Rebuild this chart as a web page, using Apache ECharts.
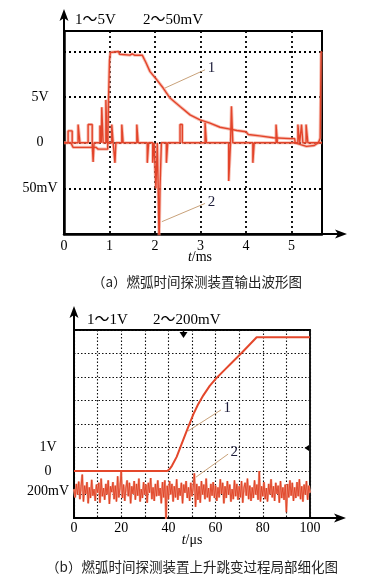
<!DOCTYPE html>
<html><head><meta charset="utf-8">
<script src="https://cdn.jsdelivr.net/npm/echarts@6/dist/echarts.min.js"></script>
<style>html,body{margin:0;padding:0;background:#fff}#c{width:365px;height:579px}</style>
</head><body><div id="c"></div>
<script>
// ---------- DATA ----------
// Panel (a): time in ms
const aXTickVals = [0, 1, 2, 3, 4, 5];
const aYTickVals = [1, 0, -1];            // in divisions
const aYTickTexts = ['5V', '0', '50mV'];
const aCh1PerDiv = 5;    // V / div
const aCh2PerDiv = 50;   // mV / div
// channel 1 : [t ms, V]
const aTrace1 = [
  [0,0],[0.15,0],[0.2,-0.5],[0.7,-0.5],[0.75,-0.7],[0.96,-0.7],[0.98,5],[1.0,9.0],[1.02,9.9],
  [1.2,10.0],[1.22,9.7],[1.45,9.6],[1.5,9.75],[1.55,9.6],[1.72,9.6],[1.8,8.8],[1.89,7.8],
  [2.04,6.9],[2.18,6.0],[2.33,4.9],[2.55,3.97],[2.77,3.06],[2.99,2.5],[3.21,2.15],[3.43,1.7],
  [3.65,1.5],[3.66,1.3],[3.8,1.35],[4.0,1.2],[4.05,0.9],[4.3,0.75],[4.6,0.55],[4.97,0.45],
  [5.07,0.45],[5.08,0],[5.2,-0.2],[5.33,-0.4],[5.5,-0.3],[5.59,0],[5.63,0.5],[5.65,9.9],[5.67,10]
];
// channel 2 : [t ms, mV]  (value holds until next point)
const aTrace2 = [
  [0,0],[0.09,13],[0.18,0],[0.31,20],[0.35,0],[0.53,20],[0.62,0],[0.64,-21],[0.66,0],
  [0.79,19],[0.82,0],[0.83,39],[0.86,0],[0.92,47],[0.95,0],[1.05,20],[1.08,0],[1.12,-22],
  [1.14,0],[1.27,20],[1.3,0],[1.6,20],[1.63,0],[1.83,-22],[1.86,0],[1.95,-22],[1.98,0],
  [2.02,-50],[2.05,0],[2.07,-50],[2.09,-110],[2.11,-50],[2.14,0],[2.25,-22],[2.28,0],
  [2.55,20],[2.6,0],[3.1,22],[3.13,0],[3.62,-42],[3.66,0],[3.68,40],[3.71,0],[4.15,-22],
  [4.18,0],[4.66,20],[4.69,0],[5.14,20],[5.18,0],[5.22,20],[5.25,0],[5.32,20],[5.36,0],[5.67,0]
];

// Panel (b): time in µs
const bXTickLabelVals = [0, 20, 40, 60, 80, 100];
const bYTickVals = [1, 0];
const bYTickTexts = ['1V', '0'];
const bCh1PerDiv = 1;     // V / div
const bCh2PerDiv = 200;   // mV / div
const bCh2Offset = -0.85; // div
const bCh2Label = '200mV';
// channel 1 : [t µs, V]
const bTrace1 = [
  [0,0],[39.5,0],[40.5,0.08],[41.5,0.22],[43.5,0.6],[45.5,1.12],[47.8,1.72],[50.6,2.42],
  [52.5,2.82],[54.8,3.22],[57.5,3.62],[60.5,3.97],[63.5,4.27],[66.1,4.53],[71.1,5.03],
  [77.4,5.69],[100,5.69]
];
// channel 2 : mV sampled every 0.5 µs from 0 to 100
const bCh2Step = 0.5;
const bTrace2 = [
  15,-55,60,-30,80,-70,40,140,-90,45,-25,75,-105,30,-60,95,-40,15,-85,55,
  -15,70,-100,105,-45,25,-75,60,-30,90,-110,40,-10,75,-70,45,-90,125,-55,30,
  165,-60,55,-85,25,90,-45,70,-105,40,-25,85,-75,60,-40,105,-90,15,-60,75,
  -30,55,-100,70,-15,110,-70,30,-85,60,-45,90,-40,25,-105,75,-55,90,-240,45,
  -70,85,-30,60,-90,40,-55,100,-75,25,-40,70,-105,55,-15,85,-60,30,-85,70,
  -45,30,150,-135,60,-75,40,-100,85,-30,55,-70,105,-55,25,-90,60,-40,75,-60,
  45,-85,30,-55,100,-25,70,-105,40,-60,85,-30,55,-90,15,-70,90,-45,60,-75,
  40,-55,85,-100,25,70,-40,105,-70,45,-85,30,-60,90,-30,55,-75,170,-90,40,
  -45,75,-70,25,-90,60,-30,100,-55,40,-85,70,-25,45,-100,85,-60,30,-75,55,
  -180,60,-55,90,-40,70,-85,30,-60,75,-45,100,-70,40,-90,55,-30,85,-75,45,-15
];
// annotation leaders: [from],[to] in data units (t, div)
const aLead1 = [[2.22,1.20],[3.10,1.60]];
const aLead2 = [[2.15,-1.73],[3.10,-1.33]];
const bLead1 = [[48.3,1.70],[62.3,2.60]];
const bLead2 = [[51.7,-0.26],[65.3,0.72]];

// ---------- LAYOUT ----------
const A = {left:64, top:31, width:258, height:203, xMax:5.67, yMin:-2, yMax:2.45};
const B = {left:74, top:330, width:236, height:188, xMax:100, yMin:-2, yMax:6};
const SERIF = '"Liberation Serif", "Times New Roman", serif';
const CJK = '"Noto Sans CJK SC", sans-serif';
const RED = '#e3442a', HALO = 'rgba(240,140,120,0.55)', LEAD = '#c9a27a', LBL = '#1d1d3a';

function near(v, arr){ return arr.findIndex(x => Math.abs(x - v) < 1e-6); }
function fmtFrom(vals, texts){ return v => { const i = near(v, vals); return i >= 0 ? texts[i] : ''; }; }

const gridLine = (w, dash, c) => ({show:true, lineStyle:{color:c, width:w, type:dash}});
function leader(seg, txt){
  return {silent:true, symbol:['none','none'], animation:false,
    lineStyle:{color:LEAD, width:1, type:'solid'},
    label:{show:true, position:'end', formatter:txt, distance:3, fontFamily:SERIF, fontSize:15, color:LBL},
    data:[[{coord:seg[0]},{coord:seg[1]}]]};
}

const aS1 = aTrace1.map(p => [p[0], p[1]/aCh1PerDiv]);
const aS2 = aTrace2.map(p => [p[0], p[1]/aCh2PerDiv]);
const bS1 = bTrace1.map(p => [p[0], p[1]/bCh1PerDiv]);
const bS2 = bTrace2.map((v,i) => [i*bCh2Step, bCh2Offset + v/bCh2PerDiv]);

function yPix(G, v){ return G.top + (G.yMax - v)/(G.yMax - G.yMin)*G.height; }

function arrowsFor(G, yTipGap, xTipX){
  const x0 = G.left, yb = G.top + G.height, xr = G.left + G.width;
  const yt = G.top - yTipGap;
  return [
    {type:'line', shape:{x1:x0, y1:G.top, x2:x0, y2:yt+6}, style:{stroke:'#000', lineWidth:2}},
    {type:'polygon', shape:{points:[[x0,yt],[x0-4.5,yt+12],[x0,yt+9],[x0+4.5,yt+12]]}, style:{fill:'#000'}},
    {type:'line', shape:{x1:xr, y1:yb, x2:xTipX-6, y2:yb}, style:{stroke:'#000', lineWidth:2}},
    {type:'polygon', shape:{points:[[xTipX,yb],[xTipX-12,yb-4.5],[xTipX-9,yb],[xTipX-12,yb+4.5]]}, style:{fill:'#000'}}
  ];
}
function txt(text, x, y, opt){
  return {type:'text', x:x, y:y, style:Object.assign({text:text, font:'14px '+SERIF, fill:'#000',
    textAlign:'left', textVerticalAlign:'middle'}, opt||{})};
}

const chart = echarts.init(document.getElementById('c'), null, {renderer:'canvas'});
chart.setOption({
  animation:false,
  backgroundColor:'#fff',
  grid:[
    {left:A.left, top:A.top, width:A.width, height:A.height, show:true, borderColor:'#000', borderWidth:2, backgroundColor:'transparent'},
    {left:B.left, top:B.top, width:B.width, height:B.height, show:true, borderColor:'#000', borderWidth:1.8, backgroundColor:'transparent'}
  ],
  xAxis:[
    {gridIndex:0, type:'value', min:0, max:A.xMax, interval:1,
     axisLine:{show:true, onZero:false, lineStyle:{color:'#000', width:2.5}}, axisTick:{show:false},
     axisLabel:{formatter:fmtFrom(aXTickVals, aXTickVals.map(String)), margin:5, fontFamily:SERIF, fontSize:14, color:'#000'},
     splitLine:gridLine(1.8,[2,3],'#000')},
    {gridIndex:1, type:'value', min:0, max:B.xMax, interval:10,
     axisLine:{show:true, onZero:false, lineStyle:{color:'#000', width:2}}, axisTick:{show:false},
     axisLabel:{formatter:fmtFrom(bXTickLabelVals, bXTickLabelVals.map(String)), margin:3, fontFamily:SERIF, fontSize:14, color:'#000'},
     splitLine:gridLine(1.1,[1.5,2],'#111')}
  ],
  yAxis:[
    {gridIndex:0, type:'value', min:A.yMin, max:A.yMax, interval:1,
     axisLine:{show:true, onZero:false, lineStyle:{color:'#000', width:2.5}}, axisTick:{show:false},
     axisLabel:{formatter:fmtFrom(aYTickVals, aYTickTexts), margin:24, align:'center', fontFamily:SERIF, fontSize:14, color:'#000'},
     splitLine:gridLine(1.8,[2,3],'#000')},
    {gridIndex:1, type:'value', min:B.yMin, max:B.yMax, interval:1,
     axisLine:{show:true, onZero:false, lineStyle:{color:'#000', width:2}}, axisTick:{show:false},
     axisLabel:{formatter:fmtFrom(bYTickVals, bYTickTexts), margin:26, align:'center', fontFamily:SERIF, fontSize:14, color:'#000'},
     splitLine:gridLine(1.1,[1.5,2],'#111')}
  ],
  series:[
    {type:'line', xAxisIndex:0, yAxisIndex:0, data:aS1, showSymbol:false, lineStyle:{color:HALO, width:3.2}, z:2, silent:true},
    {type:'line', xAxisIndex:0, yAxisIndex:0, data:aS2, step:'end', showSymbol:false, lineStyle:{color:HALO, width:3.2}, z:2, silent:true},
    {type:'line', xAxisIndex:0, yAxisIndex:0, data:aS1, showSymbol:false, lineStyle:{color:RED, width:1.4}, z:3, silent:true, markLine:leader(aLead1,'1')},
    {type:'line', xAxisIndex:0, yAxisIndex:0, data:aS2, step:'end', showSymbol:false, lineStyle:{color:RED, width:1.4}, z:3, silent:true, markLine:leader(aLead2,'2')},
    {type:'line', xAxisIndex:1, yAxisIndex:1, data:bS2, showSymbol:false, lineStyle:{color:'#f09a86', width:2.2}, z:2, silent:true},
    {type:'line', xAxisIndex:1, yAxisIndex:1, data:bS2, showSymbol:false, lineStyle:{color:'#de3a1c', width:0.8}, z:3, silent:true, markLine:leader(bLead2,'2')},
    {type:'line', xAxisIndex:1, yAxisIndex:1, data:bS1, showSymbol:false, lineStyle:{color:'#e4472b', width:2}, z:4, silent:true, markLine:leader(bLead1,'1')}
  ],
  graphic:[].concat(
    arrowsFor(A, 22, 347),
    arrowsFor(B, 24, 346),
    [
      txt('1～5V', 75, 20, {font:'15px '+SERIF+', '+CJK}),
      txt('2～50mV', 143, 20, {font:'15px '+SERIF+', '+CJK}),
      txt('1～1V', 87, 320, {font:'15px '+SERIF+', '+CJK}),
      txt('2～200mV', 153, 320, {font:'15px '+SERIF+', '+CJK}),
      txt(bCh2Label, B.left-26, yPix(B, bCh2Offset), {textAlign:'center'}),
      {type:'text', x:200, y:257, style:{text:'{i|t}/ms', textAlign:'center', textVerticalAlign:'middle', font:'14px '+SERIF, fill:'#000',
        rich:{i:{fontStyle:'italic', fontFamily:'Liberation Serif', fontSize:14}}}},
      {type:'text', x:192, y:540, style:{text:'{i|t}/μs', textAlign:'center', textVerticalAlign:'middle', font:'14px '+SERIF, fill:'#000',
        rich:{i:{fontStyle:'italic', fontFamily:'Liberation Serif', fontSize:14}}}},
      txt('（a）燃弧时间探测装置输出波形图', 197, 282, {textAlign:'center', font:'13.5px '+CJK, fill:'#222'}),
      txt('（b）燃弧时间探测装置上升跳变过程局部细化图', 192, 567, {textAlign:'center', font:'13.5px '+CJK, fill:'#222'}),
      {type:'polygon', shape:{points:[[179.5,332],[187.5,332],[183.5,338]]}, style:{fill:'#000'}},
      {type:'line', shape:{x1:183.5, y1:330, x2:183.5, y2:334}, style:{stroke:'#000', lineWidth:1.5}},
      {type:'polygon', shape:{points:[[304.5,448],[309,445],[309,451]]}, style:{fill:'#000'}}
    ]
  )
});
</script></body></html>
